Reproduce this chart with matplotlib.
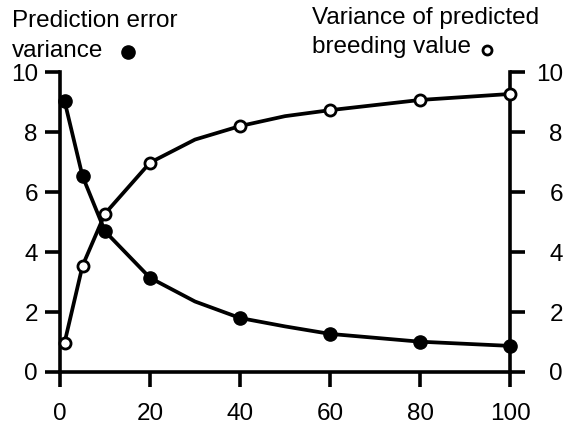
import matplotlib
matplotlib.use("Agg")
import matplotlib.pyplot as plt
from matplotlib.lines import Line2D

plt.rcParams['font.family'] = ['Liberation Sans', 'DejaVu Sans']

# curve points (markers only on the sampled sizes)
x_vals = [1, 5, 10, 20, 30, 40, 50, 60, 80, 100]
pev = [9.04, 6.53, 4.69, 3.14, 2.35, 1.80, 1.52, 1.27, 1.01, 0.87]
vpbv = [0.97, 3.54, 5.28, 6.98, 7.75, 8.20, 8.53, 8.73, 9.07, 9.27]
marked = [0, 1, 2, 3, 5, 7, 8, 9]

x_ticks = [0, 20, 40, 60, 80, 100]
y_ticks = [0, 2, 4, 6, 8, 10]

fig = plt.figure(figsize=(5.65, 4.26), dpi=100)
ax = fig.add_axes([0.1062, 0.1268, 0.7965, 0.704])
ax2 = ax.twinx()

lw = 2.7
ax.plot(x_vals, pev, color='black', lw=lw, marker='o', markevery=marked,
        markersize=9.5, markerfacecolor='black', markeredgecolor='black',
        clip_on=False, zorder=3)
ax2.plot(x_vals, vpbv, color='black', lw=lw, marker='o', markevery=marked,
         markersize=8, markerfacecolor='white', markeredgecolor='black',
         markeredgewidth=2, clip_on=False, zorder=4)

for a in (ax, ax2):
    a.set_xlim(0, 100)
    a.set_ylim(0, 10)
    a.spines['top'].set_visible(False)
    for s in a.spines.values():
        s.set_linewidth(2.6)

ax.spines['right'].set_visible(False)
ax2.spines['left'].set_visible(False)
ax2.spines['bottom'].set_visible(False)

ax.set_xticks(x_ticks)
ax.set_yticks(y_ticks)
ax2.set_yticks(y_ticks)
ax.tick_params(axis='both', direction='out', length=11, width=2.6,
               labelsize=17.5)
ax.tick_params(axis='x', pad=11)
ax.tick_params(axis='y', pad=5)
ax2.tick_params(axis='y', direction='out', length=11, width=2.6,
                labelsize=17.5, pad=27)
# right-hand numbers are right-aligned
plt.setp(ax2.get_yticklabels(), ha='right')

# headings above the axes, with the marker used by each curve
fig.text(0.021, 0.936, "Prediction error", fontsize=17.5, ha='left', va='baseline')
fig.text(0.021, 0.866, "variance", fontsize=17.5, ha='left', va='baseline')
fig.text(0.552, 0.943, "Variance of predicted", fontsize=17.5, ha='left', va='baseline')
fig.text(0.552, 0.876, "breeding value", fontsize=17.5, ha='left', va='baseline')
fig.add_artist(Line2D([0.2265], [0.878], marker='o', markersize=9.5,
                      color='black', transform=fig.transFigure))
fig.add_artist(Line2D([0.862], [0.882], marker='o', markersize=6.5,
                      markerfacecolor='white', markeredgecolor='black',
                      markeredgewidth=2, transform=fig.transFigure))

fig.savefig("out.png", dpi=100)
